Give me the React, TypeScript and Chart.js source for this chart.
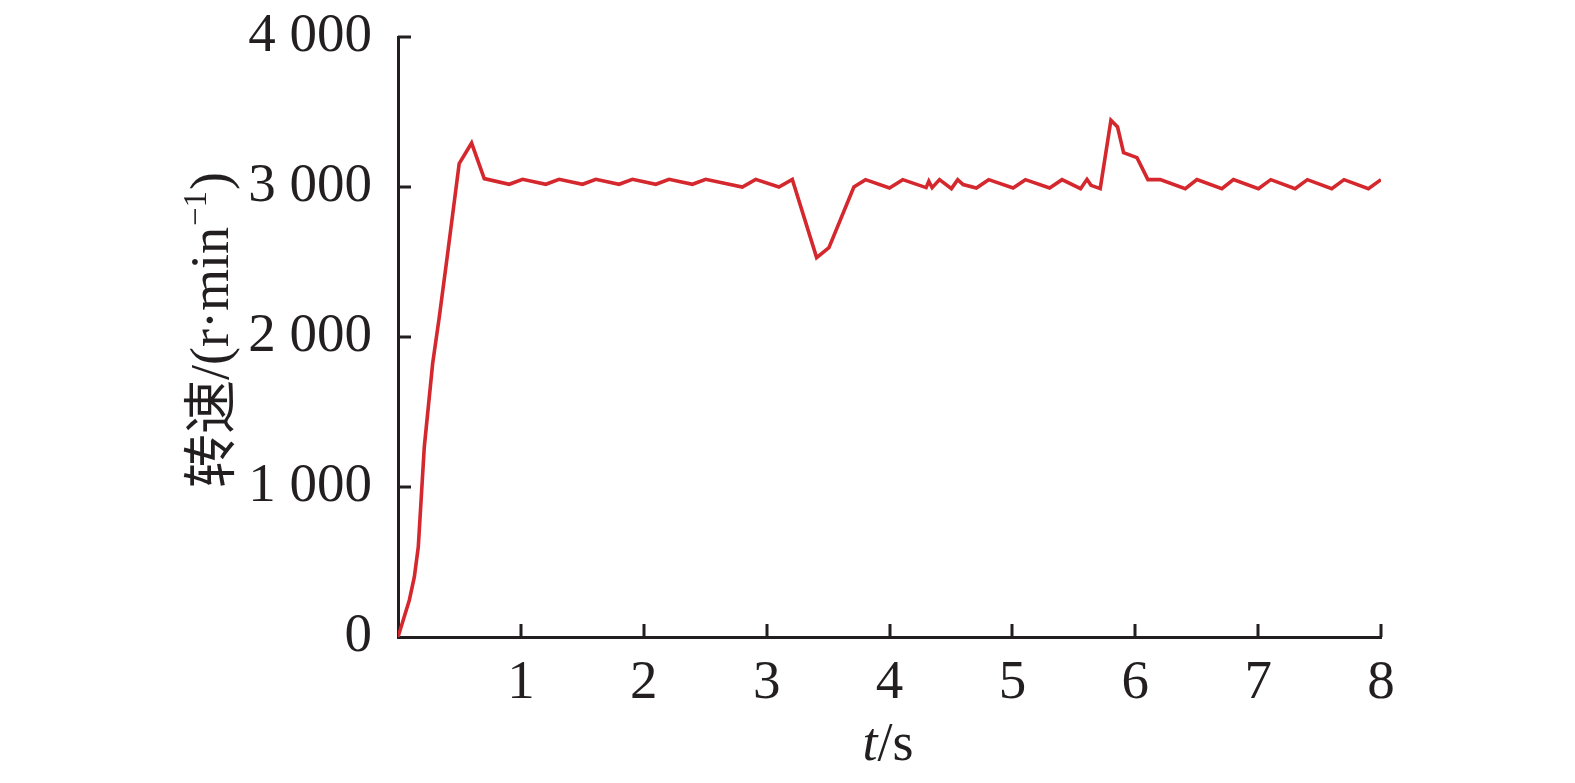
import React, { useEffect, useRef } from "react";
import { Chart, registerables } from "chart.js";

Chart.register(...registerables);

const times: number[] = [
  0, 0.092, 0.133, 0.165, 0.214, 0.282, 0.336, 0.404, 0.498, 0.599, 0.702,
  0.905, 1.014, 1.203, 1.311, 1.502, 1.61, 1.799, 1.908, 2.098, 2.206, 2.396,
  2.504, 2.802, 2.911, 3.1, 3.209, 3.407, 3.507, 3.71, 3.805, 4.0, 4.108,
  4.298, 4.32, 4.347, 4.407, 4.504, 4.555, 4.599, 4.707, 4.807, 5.006, 5.106,
  5.303, 5.404, 5.555, 5.607, 5.64, 5.715, 5.802, 5.856, 5.905, 6.014, 6.103,
  6.203, 6.407, 6.502, 6.705, 6.799, 7.002, 7.103, 7.301, 7.401, 7.599, 7.699,
  7.897, 8.0,
];

const speeds: number[] = [
  0, 245, 400, 600, 1267, 1823, 2133, 2556, 3156, 3293, 3056,
  3018, 3051, 3018, 3051, 3018, 3051, 3018, 3051, 3018, 3051, 3018,
  3051, 3000, 3051, 3000, 3051, 2529, 2596, 3000, 3049, 2993, 3049,
  2996, 3038, 2996, 3049, 2989, 3049, 3016, 2993, 3049, 2993, 3049,
  2993, 3049, 2989, 3051, 3011, 2989, 3445, 3400, 3229, 3196, 3049,
  3049, 2989, 3049, 2989, 3049, 2989, 3049, 2989, 3049, 2989, 3049,
  2989, 3049,
];

const xTickValues: number[] = [0, 1, 2, 3, 4, 5, 6, 7, 8];
const xTickLabels: string[] = ["", "1", "2", "3", "4", "5", "6", "7", "8"];
const yTickValues: number[] = [0, 1000, 2000, 3000, 4000];
const yTickLabels: string[] = ["0", "1 000", "2 000", "3 000", "4 000"];

const yTitleCJK = "转速";
const yTitleLatin = "/(r·min";
const yTitleSup = "−1";
const yTitleEnd = ")";
const xTitleItalic = "t";
const xTitleRest = "/s";

const INK = "#231f20";
const RED = "#d4282e";
const SERIF = '"Liberation Serif", "Times New Roman", serif';
const CJK = '"Noto Sans CJK SC", sans-serif';

const W = 1575;
const H = 783;

const decorPlugin = {
  id: "decor",
  afterDraw(chart: any) {
    const ctx = chart.ctx as CanvasRenderingContext2D;
    const xs = chart.scales.x;
    const ys = chart.scales.y;
    const area = chart.chartArea;
    const tickLen = 13;
    ctx.save();
    ctx.strokeStyle = INK;
    ctx.lineWidth = 3;
    ctx.beginPath();
    xTickValues.forEach((v) => {
      if (v === 0) return;
      const px = Math.round(xs.getPixelForValue(v));
      ctx.moveTo(px, area.bottom);
      ctx.lineTo(px, area.bottom - tickLen);
    });
    yTickValues.forEach((v) => {
      if (v === 0) return;
      const py = Math.round(ys.getPixelForValue(v));
      ctx.moveTo(area.left, py);
      ctx.lineTo(area.left + tickLen, py);
    });
    ctx.stroke();

    // Y title (rotated)
    const fs = 54;
    ctx.fillStyle = INK;
    ctx.textBaseline = "alphabetic";
    ctx.textAlign = "left";
    const fCJK = `${fs}px ${CJK}`;
    const fLat = `${fs}px ${SERIF}`;
    const fSup = `${Math.round(fs * 0.62)}px ${SERIF}`;
    ctx.font = fCJK;
    const w1 = ctx.measureText(yTitleCJK).width;
    ctx.font = fLat;
    const w2 = ctx.measureText(yTitleLatin).width;
    const w4 = ctx.measureText(yTitleEnd).width;
    ctx.font = fSup;
    const w3 = ctx.measureText(yTitleSup).width;
    const total = w1 + w2 + w3 + w4 + 2;
    const cy = 330;
    ctx.translate(228, cy);
    ctx.rotate(-Math.PI / 2);
    let x = -total / 2;
    ctx.font = fCJK;
    ctx.fillText(yTitleCJK, x, 2);
    x += w1;
    ctx.font = fLat;
    ctx.fillText(yTitleLatin, x, 0);
    x += w2 + 1;
    ctx.font = fSup;
    ctx.fillText(yTitleSup, x, -fs * 0.4);
    x += w3 + 1;
    ctx.font = fLat;
    ctx.fillText(yTitleEnd, x, 0);
    ctx.restore();

    // X title
    ctx.save();
    ctx.fillStyle = INK;
    ctx.textBaseline = "alphabetic";
    ctx.textAlign = "left";
    const xfs = 54;
    const fIt = `italic ${xfs}px ${SERIF}`;
    const fReg = `${xfs}px ${SERIF}`;
    ctx.font = fIt;
    const wt = ctx.measureText(xTitleItalic).width;
    ctx.font = fReg;
    const ws = ctx.measureText(xTitleRest).width;
    const cx = 888;
    let sx = cx - (wt + ws) / 2;
    ctx.font = fIt;
    ctx.fillText(xTitleItalic, sx, 760);
    sx += wt;
    ctx.font = fReg;
    ctx.fillText(xTitleRest, sx, 760);
    ctx.restore();
  },
};

export default function App() {
  const ref = useRef<HTMLCanvasElement | null>(null);
  useEffect(() => {
    if (!ref.current) return;
    const data = times.map((t, i) => ({ x: t, y: speeds[i] }));
    const chart = new Chart(ref.current, {
      type: "line",
      data: {
        datasets: [
          {
            data,
            borderColor: RED,
            borderWidth: 3.6,
            pointRadius: 0,
            tension: 0,
            fill: false,
          },
        ],
      },
      options: {
        responsive: false,
        animation: false,
        devicePixelRatio: 1,
        layout: { padding: { top: 37, right: 194, bottom: 0, left: 0 } },
        plugins: {
          legend: { display: false },
          tooltip: { enabled: false },
          title: { display: false },
        },
        scales: {
          x: {
            type: "linear",
            min: 0,
            max: 8,
            afterBuildTicks: (s: any) => {
              s.ticks = xTickValues.map((v) => ({ value: v }));
            },
            afterFit: (s: any) => {
              s.height = H - 637;
              s.paddingLeft = 0;
              s.paddingRight = 0;
            },
            grid: { display: false, drawTicks: false },
            border: { display: true, color: INK, width: 3 },
            ticks: {
              padding: 14,
              color: INK,
              font: { family: SERIF, size: 55 },
              maxRotation: 0,
              autoSkip: false,
              callback: (v: any) => {
                const i = xTickValues.indexOf(Number(v));
                return i >= 0 ? xTickLabels[i] : "";
              },
            },
          },
          y: {
            type: "linear",
            min: 0,
            max: 4000,
            afterBuildTicks: (s: any) => {
              s.ticks = yTickValues.map((v) => ({ value: v }));
            },
            afterFit: (s: any) => {
              s.width = 398;
              s.paddingTop = 0;
              s.paddingBottom = 0;
            },
            grid: { display: false, drawTicks: false },
            border: { display: true, color: INK, width: 3 },
            ticks: {
              padding: 26,
              color: INK,
              font: { family: SERIF, size: 55 },
              autoSkip: false,
              callback: (v: any) => {
                const i = yTickValues.indexOf(Number(v));
                return i >= 0 ? yTickLabels[i] : "";
              },
            },
          },
        },
      },
      plugins: [decorPlugin],
    });
    return () => chart.destroy();
  }, []);
  return (
    <div style={{ position: "absolute", left: 0, top: 0, width: W, height: H, background: "#fff" }}>
      <canvas ref={ref} width={W} height={H} style={{ display: "block", width: W, height: H }} />
    </div>
  );
}
